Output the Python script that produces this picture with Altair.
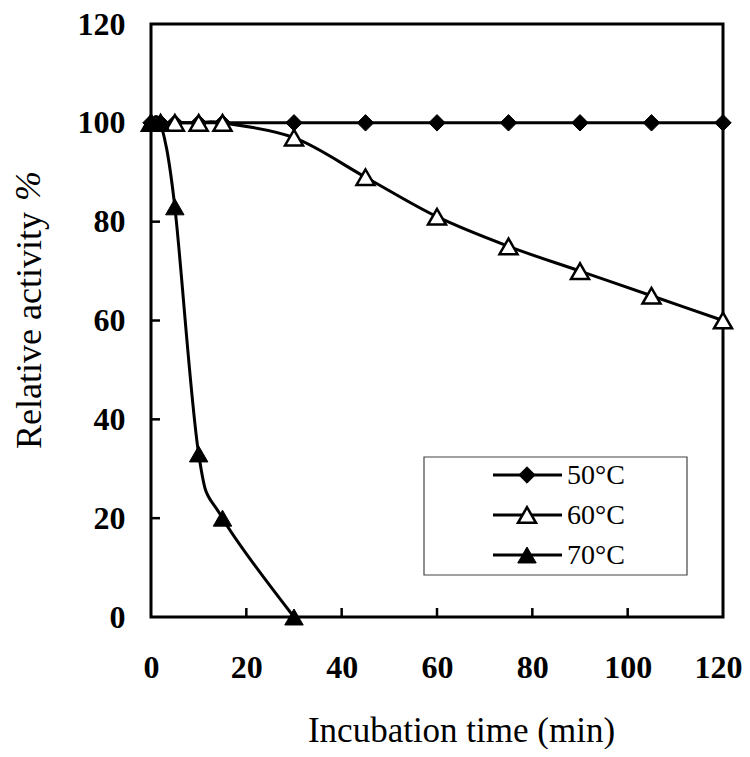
import altair as alt
import pandas as pd

# ---- data ----
series_names = ["50°C", "60°C", "70°C"]
time_50 = [0, 2, 5, 10, 15, 30, 45, 60, 75, 90, 105, 120]
act_50 = [100, 100, 100, 100, 100, 100, 100, 100, 100, 100, 100, 100]
time_60 = [0, 2, 5, 10, 15, 30, 45, 60, 75, 90, 105, 120]
act_60 = [100, 100, 100, 100, 100, 97, 89, 81, 75, 70, 65, 60]
time_70 = [0, 2, 5, 10, 15, 30]
act_70 = [100, 100, 83, 33, 20, 0]
x_ticks = [0, 20, 40, 60, 80, 100, 120]
y_ticks = [0, 20, 40, 60, 80, 100, 120]

FONT = "Liberation Serif"
W, H = 572, 593

frames = []
for name, t, a in [(series_names[0], time_50, act_50),
                   (series_names[1], time_60, act_60),
                   (series_names[2], time_70, act_70)]:
    frames.append(pd.DataFrame({"time": t, "act": a, "series": name}))
df = pd.concat(frames, ignore_index=True)
xt = pd.DataFrame({"tick": x_ticks[1:-1]})
yt = pd.DataFrame({"tick": y_ticks[1:-1]})

axis_x = alt.Axis(values=x_ticks, ticks=False, domain=False, grid=False,
                  labelFont=FONT, labelFontSize=32, labelFontWeight="bold",
                  labelColor="black", labelPadding=35, labelFlush=False,
                  labelOverlap=False,
                  labelOffset={"condition": {"test": "datum.value >= 120", "value": -5}, "value": 0},
                  title="Incubation time (min)", titleFont=FONT, titleFontSize=35,
                  titleFontWeight="normal", titleColor="black",
                  titleX=310, titleY=124, titleBaseline="alphabetic",
                  titleAlign="center")
axis_y = alt.Axis(values=y_ticks, ticks=False, domain=False, grid=False,
                  labelFont=FONT, labelFontSize=32, labelFontWeight="bold",
                  labelColor="black", labelPadding=26, labelFlush=False,
                  labelOverlap=False, labelBaseline="middle",
                  title="Relative activity", titleFont=FONT, titleFontSize=36,
                  titleFontWeight="normal", titleColor="black",
                  titleAngle=270, titleX=-111, titleY=306,
                  titleBaseline="alphabetic", titleAlign="center")

sx = alt.Scale(domain=[0, 120], nice=False, zero=False)
sy = alt.Scale(domain=[0, 120], nice=False, zero=False)


def xenc(f):
    return alt.X(f"{f}:Q", scale=sx, axis=axis_x)


def yenc(f):
    return alt.Y(f"{f}:Q", scale=sy, axis=axis_y)


layers = []
# inner ticks
layers.append(alt.Chart(xt).mark_rule(color="black", strokeWidth=2.5).encode(
    x=xenc("tick"), y=alt.value(H), y2=alt.value(H - 9)))
layers.append(alt.Chart(yt).mark_rule(color="black", strokeWidth=2.5).encode(
    y=yenc("tick"), x=alt.value(0), x2=alt.value(9)))

# smoothed lines
for name in series_names:
    layers.append(alt.Chart(df[df.series == name]).mark_line(
        color="black", strokeWidth=3, interpolate="cardinal", tension=0).encode(
        x=xenc("time"), y=yenc("act")))

styles = {
    series_names[0]: dict(shape="diamond", filled=True, fill="black", stroke="black", size=270, strokeWidth=1),
    series_names[1]: dict(shape="triangle-up", filled=True, fill="white", stroke="black", size=324, strokeWidth=2.5),
    series_names[2]: dict(shape="triangle-up", filled=True, fill="black", stroke="black", size=340, strokeWidth=1),
}
for name in series_names:
    layers.append(alt.Chart(df[df.series == name]).mark_point(
        opacity=1, **styles[name]).encode(x=xenc("time"), y=yenc("act")))

# "%" in italic, part of y title
layers.append(alt.Chart(alt.Data(values=[{"t": "%"}])).mark_text(
    font=FONT, fontSize=36, fontStyle="italic", angle=270, align="center",
    baseline="alphabetic", color="black").encode(
    x=alt.value(-111), y=alt.value(162), text="t:N"))

# legend box
layers.append(alt.Chart(alt.Data(values=[{"a": 1}])).mark_rect(
    fill="white", stroke="#444444", strokeWidth=1.2).encode(
    x=alt.value(273), x2=alt.value(536), y=alt.value(433), y2=alt.value(551)))
for i, name in enumerate(series_names):
    yy = 451 + 40 * i
    d = alt.Data(values=[{"name": name}])
    layers.append(alt.Chart(d).mark_rule(color="black", strokeWidth=3).encode(
        x=alt.value(342), x2=alt.value(411), y=alt.value(yy)))
    layers.append(alt.Chart(d).mark_point(opacity=1, **styles[name]).encode(
        x=alt.value(376), y=alt.value(yy)))
    layers.append(alt.Chart(d).mark_text(
        font=FONT, fontSize=28, align="left", baseline="middle", color="black").encode(
        x=alt.value(416), y=alt.value(yy + 1), text="name:N"))

chart = alt.layer(*layers).properties(
    width=W, height=H,
    autosize=alt.AutoSizeParams(type="none"),
    padding={"left": 143, "top": 16, "right": 19, "bottom": 132},
    background="white",
).configure_view(stroke="black", strokeWidth=3)

chart.save("out.html", embed_options={"renderer": "svg", "actions": False})
